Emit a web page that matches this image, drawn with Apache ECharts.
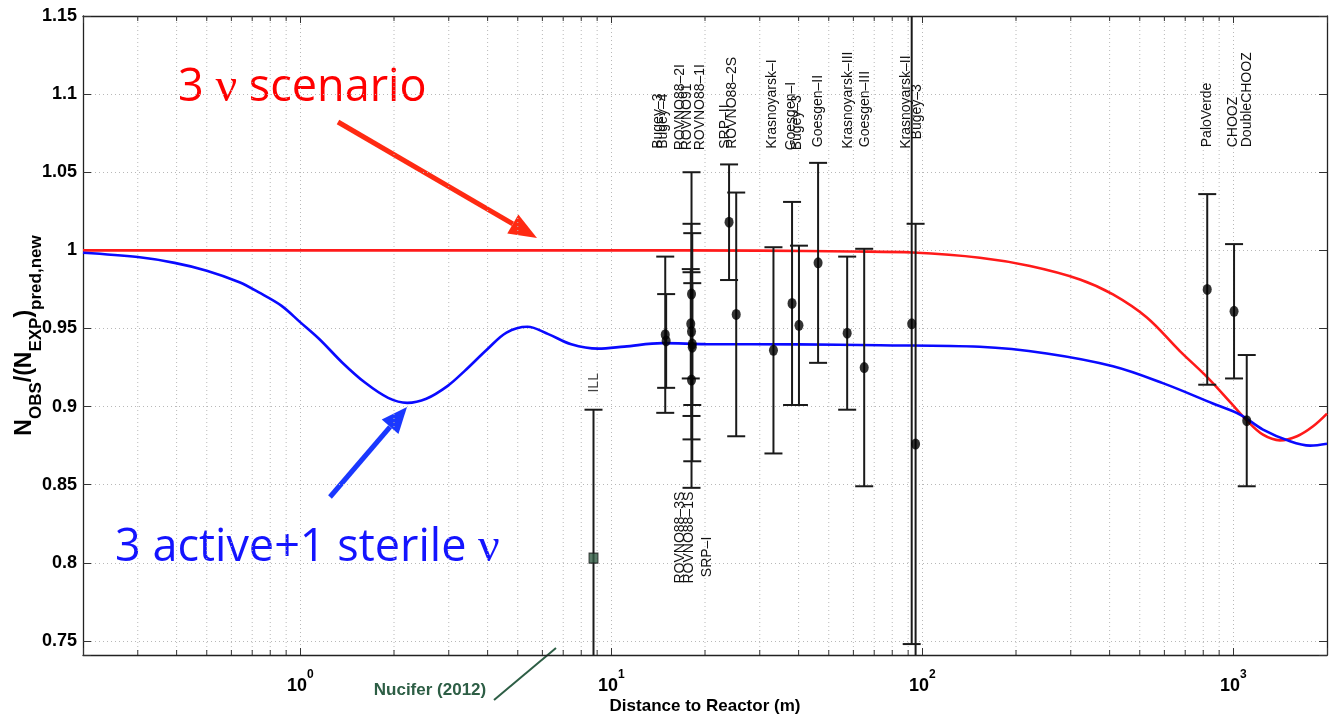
<!DOCTYPE html>
<html><head><meta charset="utf-8">
<script src="https://cdn.jsdelivr.net/npm/echarts@6/dist/echarts.min.js"></script>
<style>html,body{margin:0;padding:0;background:#fff}#c{width:1329px;height:718px}</style>
</head><body><div id="c"></div>
<script>
// ---------- axis ranges / ticks ----------
const X_MIN = 0.2, X_MAX = 2000;
const Y_MIN = 0.741, Y_MAX = 1.15;
const xMinorTicks = [0.3,0.4,0.5,0.6,0.7,0.8,0.9, 2,3,4,5,6,7,8,9, 20,30,40,50,60,70,80,90, 200,300,400,500,600,700,800,900];

// ---------- model curves ----------
const curve3nuX = [0.2, 1, 10, 30, 60, 93, 153, 222, 321, 410, 527, 673, 822, 975, 1106, 1245, 1412, 1602, 1804, 2000];
const curve3nuY = [1.0, 1.0, 1.0, 0.9998, 0.9993, 0.9986, 0.9953, 0.990, 0.9814, 0.9718, 0.957, 0.9355, 0.919, 0.903, 0.891, 0.882, 0.8784, 0.881, 0.8874, 0.8955];

const curveSterileX = [0.2, 0.3, 0.394, 0.5, 0.637, 0.733, 0.868, 1.0, 1.152, 1.365, 1.617, 1.915, 2.206, 2.54, 2.97, 3.37, 3.99, 4.60, 5.37, 6.27, 7.43, 9.06, 11.0, 14.6, 20, 40, 73, 153, 251, 410, 593, 859, 1050, 1245, 1521, 1765, 2000];
const curveSterileY = [0.9985, 0.9957, 0.992, 0.987, 0.9796, 0.9732, 0.9646, 0.9539, 0.9431, 0.9281, 0.9152, 0.9056, 0.9024, 0.905, 0.9131, 0.9227, 0.9367, 0.9474, 0.9511, 0.9464, 0.9399, 0.9371, 0.9384, 0.9406, 0.9400, 0.9398, 0.9393, 0.9383, 0.934, 0.9258, 0.915, 0.902, 0.8949, 0.8853, 0.8778, 0.875, 0.8762];

// ---------- experiments ----------
const expNames = ['Bugey-4','Bugey-3','ROVNO91','ROVNO88-1I','ROVNO88-2I','ROVNO88-1S','ROVNO88-3S','SRP-I','SRP-II','ROVNO88-2S','Krasnoyarsk-I','Goesgen-I','Bugey-3','Goesgen-II','Krasnoyarsk-III','Goesgen-III','Krasnoyarsk-II','Bugey-3','PaloVerde','CHOOZ','DoubleCHOOZ'];
const expDist  = [15.0, 14.9, 18.1, 18.0, 18.1, 18.2, 18.2, 18.1, 23.9, 25.2, 33.2, 38.1, 40.1, 46.2, 57.3, 65.0, 92.4, 95.1, 824, 1005, 1104];
const expRatio = [0.942, 0.946, 0.972, 0.953, 0.948, 0.940, 0.938, 0.917, 1.018, 0.959, 0.936, 0.966, 0.952, 0.992, 0.947, 0.925, 0.953, 0.876, 0.975, 0.961, 0.891];
const expErr   = [0.030, 0.050, 0.078, 0.035, 0.069, 0.039, 0.073, 0.069, 0.037, 0.078, 0.066, 0.065, 0.051, 0.064, 0.049, 0.076, 0.205, 0.141, 0.061, 0.043, 0.042];

const illDist = [8.76], illRatio = [0.803], illErr = [0.095];

// ---------- experiment name labels (text, distance, anchor value, alignment) ----------
const labelText  = ['Bugey–3','Bugey–4','ROVNO88–2I','ROVNO91','ROVNO88–1I','SRP–II','ROVNO88–2S','Krasnoyarsk–I','Goesgen–I','Bugey–3','Goesgen–II','Krasnoyarsk–III','Goesgen–III','Krasnoyarsk–II','Bugey–3','PaloVerde','CHOOZ','DoubleCHOOZ','ROVNO88–3S','ROVNO88–1S','SRP–I','ILL'];
const labelDist  = [14.1, 14.66, 16.6, 17.5, 19.3, 23.2, 24.4, 32.8, 37.8, 39.5, 46.2, 57.6, 65.4, 88.5, 96.1, 822, 998, 1106, 16.6, 17.8, 20.3, 8.83];
const labelAnchor= [1.065,1.065,1.064,1.064,1.064,1.065,1.065,1.065,1.064,1.064,1.066,1.065,1.066,1.065,1.071,1.066,1.066,1.066, 0.8455,0.8455,0.8167, 0.909];
const labelAlign = ['left','left','left','left','left','left','left','left','left','left','left','left','left','left','left','left','left','left','right','right','right','left'];

const FONT = '"Liberation Sans", Arial, Helvetica, sans-serif';
const chart = echarts.init(document.getElementById('c'));

function xAxisBase(pos, show) {
  return {
    type: 'log', logBase: 10, min: X_MIN, max: X_MAX, position: pos,
    axisLine: { show: true, onZero: false, lineStyle: { color: '#222', width: 1.3 } },
    axisTick: { show: true, inside: true, length: 7, lineStyle: { color: '#333', width: 1 } },
    splitLine: { show: show, lineStyle: { color: '#b8b8b8', width: 1, type: [1, 3] } },
    axisLabel: show ? {
      margin: 14,
      formatter: v => {
        const l = Math.log10(v);
        if (Math.abs(l - Math.round(l)) > 1e-6) return '';
        return '{b|10}{s|' + Math.round(l) + '}';
      },
      rich: {
        b: { fontSize: 18, fontWeight: 'bold', fontFamily: FONT, color: '#000', lineHeight: 26, verticalAlign: 'bottom' },
        s: { fontSize: 12, fontWeight: 'bold', fontFamily: FONT, color: '#000', lineHeight: 26, verticalAlign: 'top' }
      }
    } : { show: false }
  };
}
function yAxisBase(pos, show) {
  return {
    type: 'value', min: Y_MIN, max: Y_MAX, position: pos, splitNumber: 8, minInterval: 0.05, maxInterval: 0.05,
    axisLine: { show: true, onZero: false, lineStyle: { color: '#222', width: 1.3 } },
    axisTick: { show: true, inside: true, length: 8, lineStyle: { color: '#333', width: 1 } },
    splitLine: { show: show, lineStyle: { color: '#b8b8b8', width: 1, type: [1, 3] } },
    axisLabel: show ? {
      margin: 6, fontSize: 18, fontWeight: 'bold', fontFamily: FONT, color: '#000',
      formatter: v => {
        const k = v / 0.05;
        if (Math.abs(k - Math.round(k)) > 1e-6) return '';
        return String(+v.toFixed(2));
      }
    } : { show: false }
  };
}

const xBottom = xAxisBase('bottom', true);
xBottom.name = 'Distance to Reactor (m)';
xBottom.nameLocation = 'middle';
xBottom.nameGap = 43;
xBottom.nameMoveOverlap = false;
xBottom.nameTextStyle = { fontSize: 17, fontWeight: 'bold', fontFamily: FONT, color: '#000' };
const yLeft = yAxisBase('left', true);
yLeft.name = '{n|N}{sb|OBS}{n|/(N}{sb|EXP}{n|)}{sb|pred,new}';
yLeft.nameLocation = 'middle';
yLeft.nameGap = 38;
yLeft.nameMoveOverlap = false;
yLeft.nameRotate = 90;
yLeft.nameTextStyle = {
  rich: {
    n: { fontSize: 23, fontWeight: 'bold', fontFamily: FONT, color: '#000', lineHeight: 32, verticalAlign: 'top' },
    sb: { fontSize: 17, fontWeight: 'bold', fontFamily: FONT, color: '#000', lineHeight: 32, verticalAlign: 'bottom' }
  }
};

function errorBarRender(color) {
  return function (params, api) {
    const x = api.value(0), y = api.value(1), e = api.value(2);
    const hi = api.coord([x, Math.min(y + e, Y_MAX)]), lo = api.coord([x, Math.max(y - e, Y_MIN)]);
    const w = 9;
    const st = { stroke: color, lineWidth: 2 };
    const ch = [{ type: 'line', shape: { x1: hi[0], y1: hi[1], x2: lo[0], y2: lo[1] }, style: st }];
    if (y + e <= Y_MAX) ch.push({ type: 'line', shape: { x1: hi[0] - w, y1: hi[1], x2: hi[0] + w, y2: hi[1] }, style: st });
    if (y - e >= Y_MIN) ch.push({ type: 'line', shape: { x1: lo[0] - w, y1: lo[1], x2: lo[0] + w, y2: lo[1] }, style: st });
    return { type: 'group', children: ch };
  };
}

const option = {
  animation: false,
  backgroundColor: '#fff',
  grid: { left: 83, right: 2, top: 16, bottom: 63, containLabel: false, outerBoundsMode: 'none' },
  xAxis: [xBottom, xAxisBase('top', false)],
  yAxis: [yLeft, yAxisBase('right', false)],
  series: [
    { // minor log grid lines and ticks
      type: 'custom', silent: true, z: 1,
      data: xMinorTicks.map(v => [v, 1]),
      encode: { x: 0, y: 1 },
      renderItem: (params, api) => {
        const v = api.value(0);
        const b = api.coord([v, Y_MIN]), t = api.coord([v, Y_MAX]);
        return { type: 'group', children: [
          { type: 'line', shape: { x1: b[0], y1: b[1], x2: t[0], y2: t[1] }, style: { stroke: '#b8b8b8', lineWidth: 1, lineDash: [1, 3] } },
          { type: 'line', shape: { x1: b[0], y1: b[1], x2: b[0], y2: b[1] - 5 }, style: { stroke: '#333', lineWidth: 1 } },
          { type: 'line', shape: { x1: t[0], y1: t[1], x2: t[0], y2: t[1] + 5 }, style: { stroke: '#333', lineWidth: 1 } }
        ] };
      }
    },
    { name: '3 nu', type: 'line', z: 3, showSymbol: false, smooth: 0.35, clip: true,
      data: curve3nuX.map((x, i) => [x, curve3nuY[i]]),
      lineStyle: { color: '#ff1a1a', width: 2.6 } },
    { name: '3+1', type: 'line', z: 3, showSymbol: false, smooth: 0.35, clip: true,
      data: curveSterileX.map((x, i) => [x, curveSterileY[i]]),
      lineStyle: { color: '#0a0aff', width: 2.6 } },
    { type: 'custom', z: 4, silent: true, clip: true,
      data: expDist.map((d, i) => [d, expRatio[i], expErr[i]]),
      encode: { x: 0, y: 1 },
      renderItem: errorBarRender('#1a1a1a') },
    { type: 'custom', z: 4, silent: true, clip: true,
      data: illDist.map((d, i) => [d, illRatio[i], illErr[i]]),
      encode: { x: 0, y: 1 },
      renderItem: errorBarRender('#1a1a1a') },
    { type: 'scatter', z: 5, silent: true, symbol: 'circle', symbolSize: [9, 11],
      data: expDist.map((d, i) => [d, expRatio[i]]),
      itemStyle: { color: '#000' } },
    { type: 'scatter', z: 5, silent: true, symbol: 'rect', symbolSize: [9, 10],
      data: illDist.map((d, i) => [d, illRatio[i]]),
      itemStyle: { color: '#2f5a42', borderColor: '#1a1a1a', borderWidth: 1 } },
    { // experiment names
      type: 'custom', z: 6, silent: true,
      data: labelDist.map((d, i) => [d, labelAnchor[i]]),
      encode: { x: 0, y: 1 },
      renderItem: (params, api) => {
        const i = params.dataIndex;
        const p = api.coord([api.value(0), api.value(1)]);
        return { type: 'text', x: p[0], y: p[1], rotation: Math.PI / 2,
          style: { text: labelText[i], fontSize: 14, fontFamily: FONT, fill: i === labelText.length - 1 ? '#444' : '#111',
                   align: labelAlign[i], verticalAlign: 'middle' } };
      }
    }
  ],
  graphic: []
};
chart.setOption(option);

// ---------- annotations (text and arrows) ----------
function arrow(x1, y1, x2, y2, color, w, hl, hw) {
  const dx = x2 - x1, dy = y2 - y1, L = Math.hypot(dx, dy);
  const ux = dx / L, uy = dy / L, px = -uy, py = ux;
  const bx = x2 - ux * hl, by = y2 - uy * hl;
  return [
    { type: 'line', shape: { x1: x1, y1: y1, x2: bx, y2: by }, style: { stroke: color, lineWidth: w } },
    { type: 'polygon', shape: { points: [[x2, y2], [bx + px * hw, by + py * hw], [bx - px * hw, by - py * hw]] }, style: { fill: color } }
  ];
}
const ANN = '"Open Sans", "Noto Sans", sans-serif';
const graphics = [
  { type: 'text', x: 178, y: 88, style: { text: '{a|3 }{g|ν}{a| scenario}', verticalAlign: 'middle',
      rich: { a: { fontSize: 45, fontFamily: ANN, fill: '#ff0000', color: '#ff0000' },
              g: { fontSize: 48, fontFamily: '"Liberation Serif", serif', fill: '#ff0000', color: '#ff0000' } } } },
  { type: 'text', x: 115, y: 548, style: { text: '{a|3 active+1 sterile }{g|ν}', verticalAlign: 'middle',
      rich: { a: { fontSize: 45, fontFamily: ANN, fill: '#1414ff', color: '#1414ff' },
              g: { fontSize: 48, fontFamily: '"Liberation Serif", serif', fill: '#1414ff', color: '#1414ff' } } } },
  { type: 'text', x: 430, y: 690, style: { text: 'Nucifer (2012)', align: 'center', verticalAlign: 'middle',
      font: 'bold 17px ' + FONT, fill: '#2d5e45' } },
  { type: 'line', shape: { x1: 494, y1: 700, x2: 556, y2: 648 }, style: { stroke: '#2d5e45', lineWidth: 2 } }
].concat(arrow(338, 122, 537, 238, '#ff2a12', 5, 28, 11))
 .concat(arrow(330, 497, 407, 407, '#1a38ff', 5, 26, 11));
chart.setOption({ graphic: graphics });
</script></body></html>
